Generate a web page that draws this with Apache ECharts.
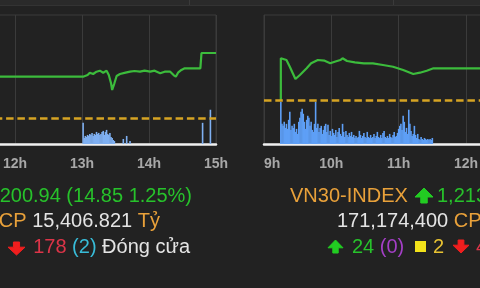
<!DOCTYPE html>
<html><head><meta charset="utf-8">
<script src="https://cdn.jsdelivr.net/npm/echarts@6/dist/echarts.min.js"></script>
<style>html,body{margin:0;padding:0;background:#222222;overflow:hidden}#c{width:480px;height:288px}</style>
</head><body><div id="c"></div>
<script>
// ---- tick labels (hour axis, minutes since midnight) ----
const HOUR_TICKS = [540, 600, 660, 720, 780, 840, 900];
const TICK_LABELS = ['9h', '10h', '11h', '12h', '13h', '14h', '15h'];

// ---- VN-INDEX (left panel) ----
const LEFT_REF = 1186.09;
const LEFT_TIMES = ['11:30','13:01','13:05','13:07','13:10','13:13','13:16','13:19','13:22','13:24','13:26','13:27','13:29','13:31','13:34','13:39','13:43','13:47','13:52','13:56','14:01','14:05','14:10','14:14','14:19','14:22','14:24','14:26','14:29','14:32','14:46','14:47','15:00'];
const LEFT_PRICE = [1195.53,1195.53,1195.91,1196.44,1196.14,1196.67,1196.90,1196.44,1196.90,1195.91,1194.02,1192.49,1194.02,1195.69,1196.14,1196.44,1196.67,1196.83,1196.67,1196.90,1196.67,1196.90,1196.30,1196.67,1196.67,1195.91,1195.53,1196.44,1197.06,1197.44,1197.44,1200.94,1200.94];
const LEFT_VOL_TIMES = ['13:01','13:02','13:03','13:04','13:05','13:06','13:07','13:08','13:09','13:10','13:11','13:12','13:13','13:14','13:15','13:16','13:17','13:18','13:19','13:20','13:21','13:22','13:23','13:24','13:25','13:26','13:27','13:28','13:29','13:37','13:40','13:43','14:48','14:55'];
const LEFT_VOL = [1050,300,400,350,450,400,500,450,550,400,500,450,600,500,550,450,500,600,650,450,600,700,500,450,550,350,300,200,150,250,400,150,1050,1700];

// ---- VN30-INDEX (right panel) ----
const RIGHT_REF = 1200.34;
const RIGHT_TIMES = ['9:15','9:15','9:20','9:23','9:28','9:32','9:38','9:42','9:48','9:54','9:59','10:03','10:08','10:10','10:14','10:21','10:29','10:37','10:46','10:55','11:04','11:13','11:19','11:25','11:31','13:00'];
const RIGHT_PRICE = [1200.34,1217.56,1216.86,1214.09,1209.01,1210.67,1213.43,1215.50,1216.86,1216.57,1215.50,1216.16,1216.86,1217.56,1216.45,1215.91,1215.50,1215.50,1214.80,1214.09,1212.73,1211.08,1211.62,1212.44,1213.43,1213.43];
const RIGHT_VOL_START = '9:15';   // one bar per minute from here
const RIGHT_VOL = [2100,1000,900,1100,800,1000,750,1200,1600,700,
 900,800,1000,600,750,500,1100,1300,1600,1750,
 1500,1100,750,1200,1400,1300,900,1100,700,600,
 1000,2100,800,1000,600,800,900,500,700,900,
 1000,600,950,450,650,400,750,550,450,700,
 350,600,800,500,400,1000,600,350,650,450,
 350,550,400,600,350,450,300,400,300,350,
 650,450,300,400,550,350,300,600,350,300,
 450,300,350,500,300,400,600,350,300,450,
 300,550,650,350,300,400,300,500,350,300,
 450,600,350,400,550,750,900,1000,700,1400,
 1100,600,800,500,1700,1000,650,400,500,900,
 450,300,500,250,200,350,250,200,300,250,
 200,250,200,250,200,300];

function toMin(s){ const p = s.split(':'); return (+p[0])*60 + (+p[1]); }
const pairs = (ts, vs) => ts.map((t,i)=>[toMin(t), vs[i]]);
const rightVolStart = toMin(RIGHT_VOL_START);
const rightVolData = RIGHT_VOL.map((v,i)=>[rightVolStart + i, v]);

const FONT = '"Liberation Sans", Arial, sans-serif';
const GREEN_LINE = '#3cbc3c', BAR = '#5e9ff6', DASH = '#d6a423', GRIDC = '#3b3b3b';
const C = {o:'#e9a13a', g:'#27c22b', w:'#e4e4e4', r:'#dc3448', c:'#38bcd8', p:'#a43fc6', y:'#e8c232', sq:'#f2e21a', ga:'#22cc22', ra:'#f01e1e'};

function xAxis(gi, alignMin){
  return {
    type:'value', gridIndex:gi, min:540, max:900, interval:60,
    axisLine:{show:true, onZero:false, lineStyle:{color:'#f0f0f0', width:2.5}},
    axisTick:{show:false},
    splitLine:{show:true, lineStyle:{color:GRIDC, width:1}},
    axisLabel:{
      formatter: v => TICK_LABELS[HOUR_TICKS.indexOf(v)] || '',
      color:'#a8a8a8', fontSize:14, fontWeight:'bold', fontFamily:FONT, margin:13,
      alignMinLabel: alignMin, alignMaxLabel:'center'
    }
  };
}
function yAxis(gi, min, max){
  return {type:'value', gridIndex:gi, min:min, max:max, show:false, splitLine:{show:false}};
}
function refLine(v){
  return {silent:true, symbol:['none','none'], animation:false, label:{show:false},
    lineStyle:{color:DASH, type:[7.5,3.8], width:2.5}, data:[{yAxis:v}]};
}

const rich = {};
Object.keys(C).forEach(k => { rich[k] = {fill:C[k], fontSize:20, fontFamily:FONT}; });
function txt(x, y, align, str){
  return {type:'text', x:x, y:y, silent:true, style:{text:str, rich:rich, align:align, verticalAlign:'middle', fontSize:20, fontFamily:FONT, fill:'#e4e4e4'}};
}
// block arrow icon: cx centre, top/bottom pixel rows, width w, dir 'up'|'down'
function arrow(cx, top, bottom, w, dir, color){
  const h = bottom - top, head = h*0.6, sh = w*0.18;
  let pts;
  if (dir === 'up') {
    const hb = top + head;
    pts = [[cx,top],[cx+w/2,hb],[cx+sh,hb],[cx+sh,bottom],[cx-sh,bottom],[cx-sh,hb],[cx-w/2,hb]];
  } else {
    const hb = bottom - head;
    pts = [[cx,bottom],[cx+w/2,hb],[cx+sh,hb],[cx+sh,top],[cx-sh,top],[cx-sh,hb],[cx-w/2,hb]];
  }
  return {type:'polygon', shape:{points:pts}, style:{fill:color, lineJoin:'round', stroke:color, lineWidth:1}, silent:true};
}

const chart = echarts.init(document.getElementById('c'), null, {renderer:'canvas'});
chart.setOption({
  backgroundColor:'#222222',
  animation:false,
  grid:[
    {left:-186, top:15, width:402, height:129, show:true, borderColor:GRIDC, borderWidth:1, containLabel:false, outerBoundsMode:'none'},
    {left:264, top:15, width:404, height:129, show:true, borderColor:GRIDC, borderWidth:1, containLabel:false, outerBoundsMode:'none'}
  ],
  xAxis:[xAxis(0,'center'), xAxis(1,'left')],
  yAxis:[yAxis(0,1180.15,1209.62), yAxis(0,0,6400), yAxis(1,1182.17,1235.45), yAxis(1,0,6400)],
  series:[
    {type:'bar', xAxisIndex:0, yAxisIndex:1, data:pairs(LEFT_VOL_TIMES, LEFT_VOL), barWidth:1.6, itemStyle:{color:'#7fb0f2'}, z:2},
    {type:'line', xAxisIndex:0, yAxisIndex:0, data:pairs(LEFT_TIMES, LEFT_PRICE), showSymbol:false, lineStyle:{color:GREEN_LINE, width:2.2}, z:4, markLine:refLine(LEFT_REF)},
    {type:'bar', xAxisIndex:1, yAxisIndex:3, data:rightVolData, barWidth:1.6, itemStyle:{color:BAR}, z:2},
    {type:'line', xAxisIndex:1, yAxisIndex:2, data:pairs(RIGHT_TIMES, RIGHT_PRICE), showSymbol:false, lineStyle:{color:GREEN_LINE, width:2.2}, z:4, markLine:refLine(RIGHT_REF)}
  ],
  graphic:[
    {type:'rect', shape:{x:0, y:0, width:480, height:5}, style:{fill:'#2a2a2a'}, silent:true},
    {type:'line', shape:{x1:0, y1:5.5, x2:480, y2:5.5}, style:{stroke:'#333333', lineWidth:1}, silent:true},
    {type:'line', shape:{x1:189.5, y1:0, x2:189.5, y2:5}, style:{stroke:'#3a3a3a', lineWidth:1}, silent:true},
    {type:'line', shape:{x1:393.5, y1:0, x2:393.5, y2:5}, style:{stroke:'#3a3a3a', lineWidth:1}, silent:true},
    // left panel summary
    txt(192, 196, 'right', '{g|1,200.94 (14.85 1.25%)}'),
    txt(160, 221, 'right', '{w|685,417,300 }{o|CP }{w|15,406.821 }{o|Tỷ}'),
    arrow(16.5, 242, 255, 17, 'down', C.ra),
    txt(190, 247, 'right', '{r|178 }{c|(2)}{w| Đóng cửa}'),
    // right panel summary
    txt(290, 196, 'left', '{o|VN30-INDEX}'),
    arrow(424, 188, 203, 18, 'up', C.ga),
    txt(437, 196, 'left', '{g|1,213.43 (13.09 1.09%)}'),
    txt(337, 221, 'left', '{w|171,174,400 }{o|CP }{w|5,512.638 }{o|Tỷ}'),
    arrow(335.5, 240, 253, 15, 'up', C.ga),
    txt(352, 247, 'left', '{g|24 }{p|(0)}'),
    {type:'rect', shape:{x:415, y:241, width:11, height:11}, style:{fill:C.sq}, silent:true},
    txt(433, 247, 'left', '{y|2}'),
    arrow(461, 240, 253, 16, 'down', C.ra),
    txt(476, 247, 'left', '{r|4}')
  ]
});
</script></body></html>
